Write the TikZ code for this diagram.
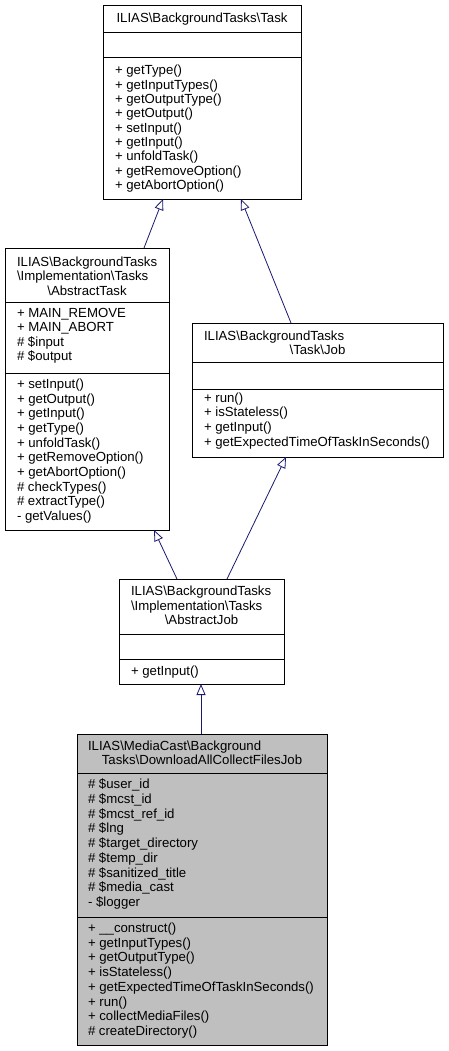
\documentclass[tikz,border=0pt]{standalone}
\usepackage{fontspec}
\setmainfont{Liberation Sans}
\usetikzlibrary{arrows.meta}
\definecolor{edgeblue}{HTML}{191970}
\definecolor{boxgray}{HTML}{BFBFBF}
\newcommand{\bs}{\textbackslash}
\tikzset{
  cls/.style={draw=black, line width=0.9pt, fill=white, anchor=north west, inner sep=0pt, outer sep=0pt},
  txt/.style={font=\fontsize{13.2}{15}\selectfont, inner sep=0pt, outer sep=0pt},
  sep/.style={draw=black, line width=0.9pt},
  inh/.style={draw=edgeblue, line width=0.8pt, -{Triangle[open, length=11pt, width=9pt]}}
}
\newcommand{\compartment}[5]{%
  \foreach \t [count=\i] in {#5}
    \node[txt, anchor=base west] (#1\i) at (#2, {#3+(\i-1)*#4}) {\t};%
}
\begin{document}
\begin{tikzpicture}[x=1pt, y=-1pt]
\useasboundingbox (0,0) rectangle (448,1051);

% ---------- Task ----------
\node[cls, minimum width=198pt, minimum height=194pt] (task) at (103,5) {};
\draw[sep] ([yshift=-27pt]task.north west) -- ([yshift=-27pt]task.north east);
\draw[sep] ([yshift=-52pt]task.north west) -- ([yshift=-52pt]task.north east);
\node[txt, anchor=base] (taskt) at (202,23) {ILIAS\bs BackgroundTasks\bs Task};
\compartment{taskm}{115}{75}{14.3}{+ getType(), + getInputTypes(), + getOutputType(), + getOutput(), + setInput(), + getInput(), + unfoldTask(), + getRemoveOption(), + getAbortOption()}

% ---------- AbstractTask ----------
\node[cls, minimum width=164pt, minimum height=282pt] (atask) at (5,248) {};
\draw[sep] ([yshift=-54pt]atask.north west) -- ([yshift=-54pt]atask.north east);
\draw[sep] ([yshift=-125pt]atask.north west) -- ([yshift=-125pt]atask.north east);
\node[txt, anchor=base west] (atasktA) at (17,266) {ILIAS\bs BackgroundTasks};
\node[txt, anchor=base west] (atasktB) at (17,280.5) {\bs Implementation\bs Tasks};
\node[txt, anchor=base] (atasktC) at (87,295) {\bs AbstractTask};
\compartment{ataska}{17}{317}{14.6}{+ MAIN\_REMOVE, + MAIN\_ABORT, \# \$input, \# \$output}
\compartment{ataskm}{17}{388.5}{14.65}{+ setInput(), + getOutput(), + getInput(), + getType(), + unfoldTask(), + getRemoveOption(), + getAbortOption(), \# checkTypes(), \# extractType(), - getValues()}

% ---------- Job ----------
\node[cls, minimum width=251pt, minimum height=134pt] (job) at (192,323) {};
\draw[sep] ([yshift=-39pt]job.north west) -- ([yshift=-39pt]job.north east);
\draw[sep] ([yshift=-66pt]job.north west) -- ([yshift=-66pt]job.north east);
\node[txt, anchor=base west] (jobtA) at (204,340) {ILIAS\bs BackgroundTasks};
\node[txt, anchor=base] (jobtB) at (317.5,354) {\bs Task\bs Job};
\compartment{jobm}{204}{402}{14.7}{+ run(), + isStateless(), + getInput(), + getExpectedTimeOfTaskInSeconds()}

% ---------- AbstractJob ----------
\node[cls, minimum width=165pt, minimum height=105pt] (ajob) at (119,579) {};
\draw[sep] ([yshift=-55pt]ajob.north west) -- ([yshift=-55pt]ajob.north east);
\draw[sep] ([yshift=-80pt]ajob.north west) -- ([yshift=-80pt]ajob.north east);
\node[txt, anchor=base west] (ajobtA) at (131,595.5) {ILIAS\bs BackgroundTasks};
\node[txt, anchor=base west] (ajobtB) at (131,610) {\bs Implementation\bs Tasks};
\node[txt, anchor=base] (ajobtC) at (201.5,624.5) {\bs AbstractJob};
\compartment{ajobm}{131}{675.5}{14.6}{+ getInput()}

% ---------- DownloadAllCollectFilesJob ----------
\node[cls, fill=boxgray, minimum width=250pt, minimum height=311pt] (dl) at (77,734) {};
\draw[sep] ([yshift=-39pt]dl.north west) -- ([yshift=-39pt]dl.north east);
\draw[sep] ([yshift=-183pt]dl.north west) -- ([yshift=-183pt]dl.north east);
\node[txt, anchor=base west] (dltA) at (88,750.5) {ILIAS\bs MediaCast\bs Background};
\node[txt, anchor=base] (dltB) at (202,764.5) {Tasks\bs DownloadAllCollectFilesJob};
\compartment{dla}{88}{788.5}{14.75}{\# \$user\_id, \# \$mcst\_id, \# \$mcst\_ref\_id, \# \$lng, \# \$target\_directory, \# \$temp\_dir, \# \$sanitized\_title, \# \$media\_cast, - \$logger}
\compartment{dlm}{88}{932.5}{14.7}{+ \_\_construct(), + getInputTypes(), + getOutputType(), + isStateless(), + getExpectedTimeOfTaskInSeconds(), + run(), + collectMediaFiles(), \# createDirectory()}

% ---------- Inheritance ----------
\draw[inh] ([xshift=139pt]atask.north west) -- ([xshift=60pt]task.south west);
\draw[inh] ([xshift=99pt]job.north west) -- ([xshift=138pt]task.south west);
\draw[inh] ([xshift=58pt]ajob.north west) -- ([xshift=149pt]atask.south west);
\draw[inh] ([xshift=108pt]ajob.north west) -- ([xshift=94pt]job.south west);
\draw[inh] ([xshift=124pt]dl.north west) -- ([xshift=82pt]ajob.south west);
\end{tikzpicture}
\end{document}
